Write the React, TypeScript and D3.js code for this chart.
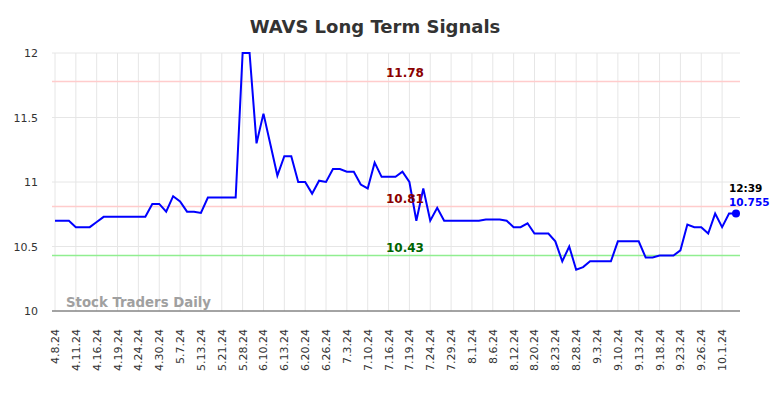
import * as d3 from "d3";

const TITLE = "WAVS Long Term Signals";

// closing prices, one per trading session shown
const prices = [
  10.70, 10.70, 10.70, 10.65, 10.65, 10.65, 10.69, 10.73, 10.73, 10.73,
  10.73, 10.73, 10.73, 10.73, 10.83, 10.83, 10.77, 10.89, 10.85, 10.77,
  10.77, 10.76, 10.88, 10.88, 10.88, 10.88, 10.88, 12.00, 12.00, 11.30,
  11.53, 11.29, 11.05, 11.20, 11.20, 11.00, 11.00, 10.91, 11.01, 11.00,
  11.10, 11.10, 11.08, 11.08, 10.98, 10.95, 11.15, 11.04, 11.04, 11.04,
  11.08, 11.00, 10.70, 10.95, 10.70, 10.80, 10.70, 10.70, 10.70, 10.70,
  10.70, 10.70, 10.71, 10.71, 10.71, 10.70, 10.65, 10.65, 10.68, 10.60,
  10.60, 10.60, 10.54, 10.385, 10.50, 10.32, 10.34, 10.385, 10.385, 10.385,
  10.385, 10.54, 10.54, 10.54, 10.54, 10.415, 10.415, 10.43, 10.43, 10.43,
  10.47, 10.67, 10.65, 10.65, 10.60, 10.755, 10.65, 10.755, 10.755,
];

// one label every 3rd session
const tickLabels = [
  "4.8.24", "4.11.24", "4.16.24", "4.19.24", "4.24.24", "4.30.24", "5.7.24",
  "5.13.24", "5.21.24", "5.28.24", "6.10.24", "6.13.24", "6.20.24", "6.26.24",
  "7.3.24", "7.10.24", "7.16.24", "7.19.24", "7.24.24", "7.29.24", "8.1.24",
  "8.6.24", "8.12.24", "8.20.24", "8.23.24", "8.28.24", "9.3.24", "9.10.24",
  "9.13.24", "9.18.24", "9.23.24", "9.26.24", "10.1.24",
];
const TICK_STEP = 3;

const yTicks = [10, 10.5, 11, 11.5, 12];

const levelValues = [11.78, 10.81, 10.43];
const levelKinds = ["resistance", "resistance", "support"];

const lastTime = "12:39";

const FONT = "DejaVu Sans, Verdana, sans-serif";

export default function App() {
  const width = 784;
  const height = 398;
  const left = 52;
  const right = 740;
  const top = 53;
  const bottom = 311;

  const x = d3.scaleLinear().domain([0, prices.length - 1]).range([55, 736]);
  const y = d3.scaleLinear().domain([10, 12]).range([bottom, top]);

  const line = d3.line<number>()
    .x((_, i) => x(i))
    .y((d) => y(d));

  const lastIdx = prices.length - 1;
  const lastVal = prices[lastIdx];

  return (
    <svg
      width={width}
      height={height}
      style={{ position: "absolute", left: 0, top: 0, background: "#fff" }}
      fontFamily={FONT}
    >
      <defs>
        <clipPath id="plot">
          <rect x={left} y={top - 1} width={right - left} height={bottom - top + 1} />
        </clipPath>
      </defs>

      <text x={375} y={33} textAnchor="middle" fontSize={18} fontWeight="bold" fill="#333">
        {TITLE}
      </text>

      {/* grid */}
      {yTicks.map((t) => (
        <line key={"h" + t} x1={left} x2={right} y1={y(t)} y2={y(t)} stroke="#e6e6e6" strokeWidth={1} />
      ))}
      {tickLabels.map((_, k) => (
        <line
          key={"v" + k}
          x1={x(k * TICK_STEP)}
          x2={x(k * TICK_STEP)}
          y1={top}
          y2={bottom}
          stroke="#e6e6e6"
          strokeWidth={1}
        />
      ))}

      {/* y tick labels */}
      {yTicks.map((t) => (
        <text key={"yl" + t} x={38} y={y(t) + 4} textAnchor="end" fontSize={11} fill="#333">
          {t}
        </text>
      ))}

      {/* x tick labels */}
      {tickLabels.map((lab, k) => (
        <text
          key={"xl" + k}
          transform={`translate(${x(k * TICK_STEP) + 4},329) rotate(-90)`}
          textAnchor="end"
          fontSize={11}
          fill="#333"
        >
          {lab}
        </text>
      ))}

      {/* support / resistance */}
      {levelValues.map((v, i) => (
        <line
          key={"lv" + i}
          x1={left}
          x2={right}
          y1={y(v)}
          y2={y(v)}
          stroke={levelKinds[i] === "support" ? "#90ee90" : "#ffcccc"}
          strokeWidth={1.5}
        />
      ))}

      <text x={66} y={307} fontSize={13.3} fontWeight="bold" fill="#a0a0a0">
        Stock Traders Daily
      </text>

      <path d={line(prices) ?? ""} fill="none" stroke="#0000ff" strokeWidth={2} clipPath="url(#plot)" />

      {levelValues.map((v, i) => (
        <text
          key={"lt" + i}
          x={405}
          y={y(v) - 4}
          textAnchor="middle"
          fontSize={12}
          fontWeight="bold"
          fill={levelKinds[i] === "support" ? "#006400" : "#8b0000"}
        >
          {v.toFixed(2)}
        </text>
      ))}

      <line x1={left} x2={right} y1={bottom} y2={bottom} stroke="#555" strokeWidth={1} />

      <circle cx={x(lastIdx)} cy={y(lastVal)} r={4} fill="#0000ff" />
      <text x={729} y={192} fontSize={10.5} fontWeight="bold" fill="#000">
        {lastTime}
      </text>
      <text x={729} y={206} fontSize={10.5} fontWeight="bold" fill="#0000ff">
        {lastVal}
      </text>
    </svg>
  );
}
